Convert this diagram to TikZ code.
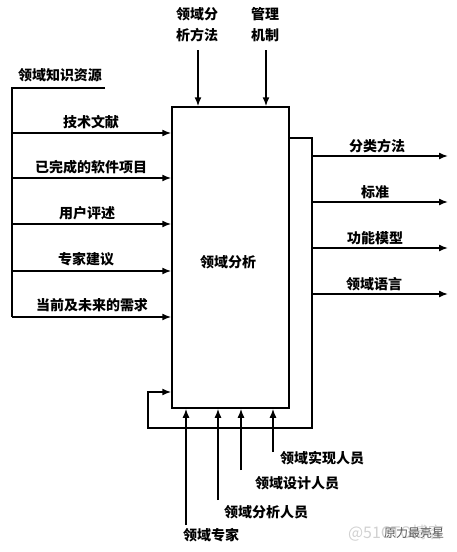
\documentclass[tikz,border=0pt]{standalone}
\usepackage{fontspec}
\newfontfamily\cjk{Noto Sans CJK SC}
\usetikzlibrary{arrows.meta}
\begin{document}
\begin{tikzpicture}[x=1pt,y=-1pt,
  ln/.style={line width=1.5pt, line join=miter},
  arr/.style={ln, -{Latex[length=9pt,width=7pt]}},
  lbl/.style={font=\cjk\bfseries\fontsize{14}{21}\selectfont, inner sep=0pt, align=center},
  wm/.style={font=\cjk\fontsize{16}{18}\selectfont, inner sep=0pt, text=black!18},
]
\useasboundingbox (0,0) rectangle (456,552);

% central box
\node[draw, ln, minimum width=117pt, minimum height=301pt, inner sep=0pt] (box) at (230.5,257.5) {};
\node[lbl] (boxlab) at (228,262) {领域分析};

% left inputs
\node[lbl] (klab) at (60,75) {领域知识资源};
\coordinate (kt) at (105,88);
\coordinate (kc) at (12,88);
\coordinate (l1) at (12,133);
\coordinate (l2) at (12,178);
\coordinate (l3) at (12,224);
\coordinate (l4) at (12,271);
\coordinate (l5) at (12,317);
\draw[ln] (kt) -- (kc) -- (l5);
\foreach \c in {l1,l2,l3,l4,l5}{
  \draw[arr] (\c) -- (\c -| box.west);
}
\node[lbl] (i1) at (91,122) {技术文献};
\node[lbl] (i2) at (91,167) {已完成的软件项目};
\node[lbl] (i3) at (87,213) {用户评述};
\node[lbl] (i4) at (86,259) {专家建议};
\node[lbl] (i5) at (92,305) {当前及未来的需求};

% top controls
\node[lbl] (m1) at (197,25) {领域分\\析方法};
\node[lbl] (m2) at (265,25) {管理\\机制};
\coordinate (t1) at (198,50);
\coordinate (t2) at (266,50);
\draw[arr] (t1) -- (t1 |- box.north);
\draw[arr] (t2) -- (t2 |- box.north);

% right outputs and feedback loop
\coordinate (ra) at (312,138);
\coordinate (rb) at (312,428);
\coordinate (rc) at (148,428);
\coordinate (rd) at (148,392);
\draw[arr] (ra -| box.east) -- (ra) -- (rb) -- (rc) -- (rd) -- (rd -| box.west);

\coordinate (o1) at (312,156); \coordinate (e1) at (448,156);
\coordinate (o2) at (312,202); \coordinate (e2) at (448,202);
\coordinate (o3) at (312,248); \coordinate (e3) at (448,248);
\coordinate (o4) at (312,294); \coordinate (e4) at (448,294);
\draw[arr] (o1) -- (e1);
\draw[arr] (o2) -- (e2);
\draw[arr] (o3) -- (e3);
\draw[arr] (o4) -- (e4);
\node[lbl] (q1) at (377,146) {分类方法};
\node[lbl] (q2) at (375,192) {标准};
\node[lbl] (q3) at (375,238) {功能模型};
\node[lbl] (q4) at (374,284) {领域语言};

% bottom mechanisms
\coordinate (b1) at (186,525);
\coordinate (b2) at (218,500);
\coordinate (b3) at (241,470);
\coordinate (b4) at (273,452);
\foreach \c in {b1,b2,b3,b4}{
  \draw[arr] (\c) -- (\c |- box.south);
}
\node[lbl] (p1) at (211,535) {领域专家};
\node[lbl] (p2) at (266,512) {领域分析人员};
\node[lbl] (p3) at (297,483) {领域设计人员};
\node[lbl] (p4) at (322,458) {领域实现人员};

% watermark
\node[wm] (w1) at (396,533) {@51CTO博客};
\node[font=\cjk\fontsize{12}{14}\selectfont, inner sep=0pt, text=black!65] (w2) at (414,533) {原力最亮星};
\end{tikzpicture}
\end{document}
